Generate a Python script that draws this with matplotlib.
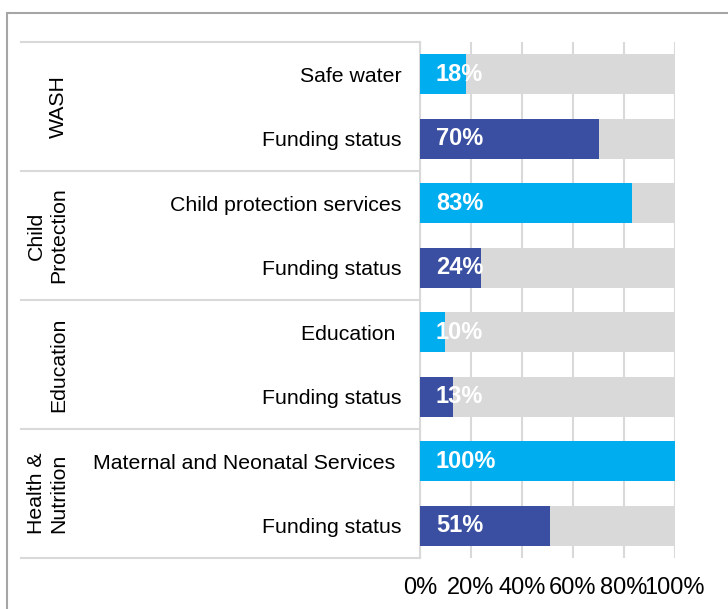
import matplotlib.pyplot as plt
from matplotlib.patches import Rectangle
from matplotlib.transforms import blended_transform_factory, offset_copy

plt.rcParams['font.family'] = ['Liberation Sans', 'DejaVu Sans']

# rows from top to bottom
categories = ["Safe water", "Funding status",
              "Child protection services", "Funding status",
              "Education ", "Funding status",
              "Maternal and Neonatal Services ", "Funding status"]
values = [18, 70, 83, 24, 10, 13, 100, 51]
kinds = ["service", "funding"] * 4
groups = ["WASH", "Child\nProtection", "Education", "Health &\nNutrition"]
ticks = [0, 20, 40, 60, 80, 100]

light_blue = "#00aeef"
dark_blue = "#3a4fa2"
grey = "#d9d9d9"

fig = plt.figure(figsize=(7.28, 6.09), dpi=100)
ax = fig.add_axes([420 / 728, 51 / 609, 255 / 728, 516 / 609])

ypos = list(range(len(categories)))
colors = [light_blue if k == "service" else dark_blue for k in kinds]
ax.barh(ypos, [100] * len(values), height=0.62, color=grey, zorder=2)
ax.barh(ypos, values, height=0.62, color=colors, zorder=3)

for y, v in zip(ypos, values):
    tr = offset_copy(ax.transData, fig=fig, x=16, y=0, units='dots')
    ax.text(0, y, f"{v}%", transform=tr, ha='left', va='center',
            color='white', fontsize=17, fontweight='bold', zorder=4)

ax.set_xlim(0, 100)
ax.set_ylim(len(categories) - 0.5, -0.5)
ax.set_xticks(ticks)
ax.set_xticklabels([f"{t}%" for t in ticks], fontsize=17)
ax.set_yticks(ypos)
ax.set_yticklabels(categories, fontsize=15.3)
ax.tick_params(axis='y', length=0, pad=13.5)
ax.tick_params(axis='x', length=0, pad=14)
ax.grid(axis='x', color=grey, linewidth=1.5)
ax.set_axisbelow(True)
for s in ['top', 'right', 'bottom']:
    ax.spines[s].set_visible(False)
ax.spines['left'].set_color(grey)
ax.spines['left'].set_linewidth(1.5)

# group separators and labels
ytr = ax.get_yaxis_transform()
x_left = (21 - 420) / 255
for i in range(len(groups) + 1):
    ax.plot([x_left, 0], [2 * i - 0.5] * 2, transform=ytr, color=grey,
            linewidth=1.5, clip_on=False)
lbl_tr = blended_transform_factory(fig.dpi_scale_trans, ax.transData)
for i, g in enumerate(groups):
    ax.text(68 / 100, 2 * i + 0.5, g, transform=lbl_tr, rotation=90,
            ha='right', va='center', fontsize=15.3, multialignment='center')

# outer frame
fig.add_artist(Rectangle((7 / 728, -0.1), 1.2, 1 - 13 / 609 + 0.1,
                         transform=fig.transFigure, fill=False,
                         edgecolor="#a6a6a6", linewidth=1.5, clip_on=False))

fig.savefig("out.png", dpi=100)
